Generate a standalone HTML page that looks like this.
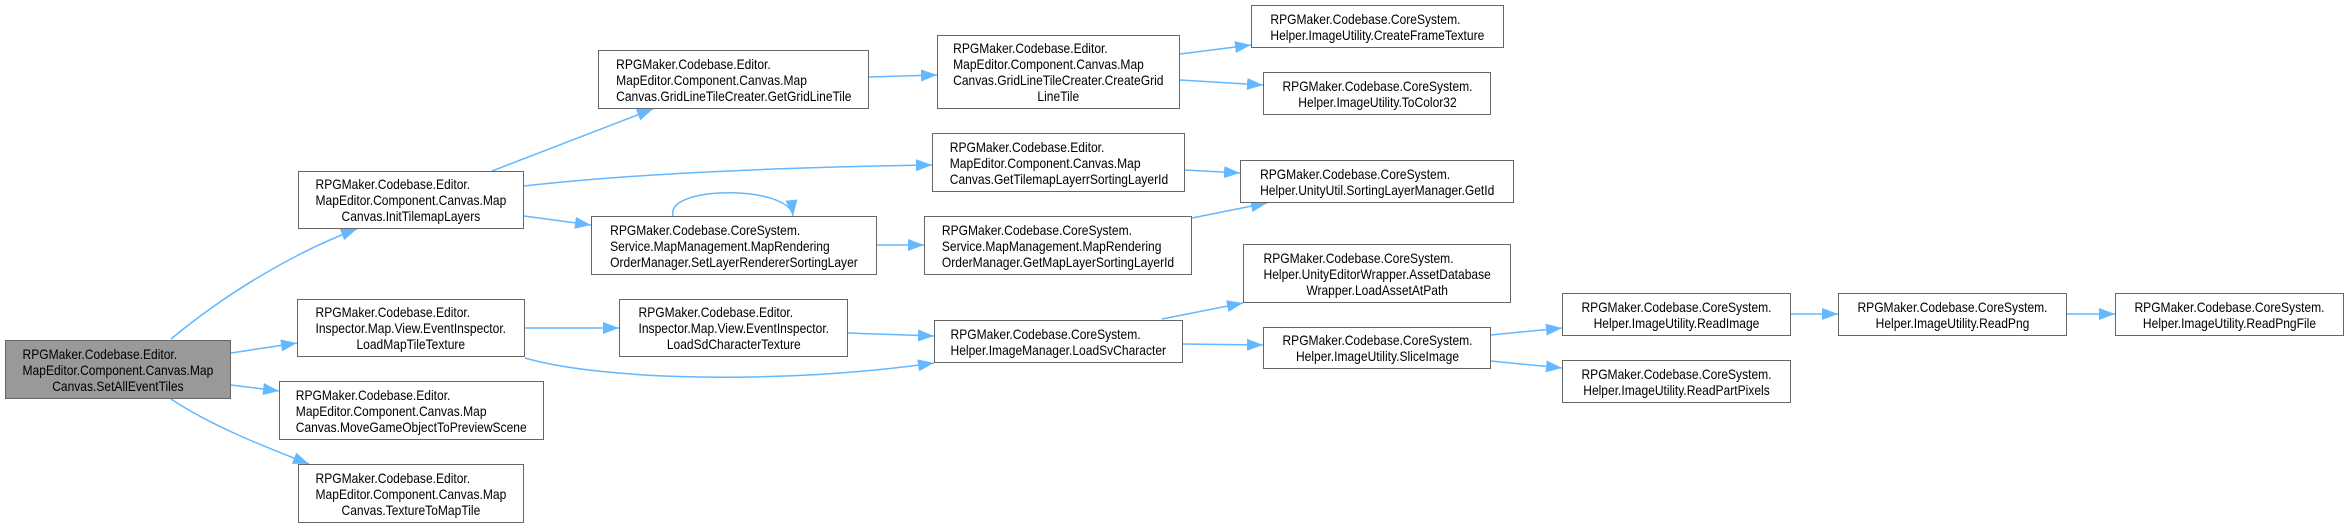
<!DOCTYPE html>
<html><head><meta charset="utf-8"><style>
body{margin:0;width:2345px;height:528px;background:#fff;position:relative;overflow:hidden;font-family:"Liberation Sans",sans-serif;}
.n{position:absolute;box-sizing:border-box;border:1.5px solid #666;background:#fff;display:flex;align-items:center;justify-content:center;font-size:14px;line-height:16px;color:#000;white-space:nowrap;}
.n.r{background:#999;}
.w{display:inline-block;text-align:left;transform:scaleX(0.86);transform-origin:center;}
.w div:last-child{text-align:center;}
svg{position:absolute;left:0;top:0;}
</style></head><body>
<svg width="2345" height="528">
<defs><marker id="a" markerWidth="16" markerHeight="12" refX="16" refY="6" orient="auto" markerUnits="userSpaceOnUse"><path d="M0,0 L16,6 L0,12 z" fill="#63b8ff"/></marker></defs>
<g stroke="#63b8ff" stroke-width="1.5" fill="none" marker-end="url(#a)">
<path d="M171,339 C230,290 300,250 357,229"/>
<path d="M231,353 L297,343"/>
<path d="M231,385 L279,391"/>
<path d="M171,399 C210,425 260,445 309,464"/>
<path d="M492,171 L653,109"/>
<path d="M524,186 C650,172 800,167 932,165"/>
<path d="M524,216 L591,225"/>
<path d="M673,216 C665,185 790,185 793,216"/>
<path d="M869,77 L937,75"/>
<path d="M1180,54 L1251,45"/>
<path d="M1180,80 L1263,85"/>
<path d="M1185,170 L1240,173"/>
<path d="M877,245 L924,245"/>
<path d="M1192,218 L1267,203"/>
<path d="M525,328 L619,328"/>
<path d="M525,358 C600,380 780,385 934,363"/>
<path d="M848,333 L934,336"/>
<path d="M1162,319 L1243,303"/>
<path d="M1183,344 L1263,345"/>
<path d="M1491,335 L1562,328"/>
<path d="M1491,361 L1562,368"/>
<path d="M1791,314 L1838,314"/>
<path d="M2067,314 L2115,314"/>
</g></svg>

<div class="n r" style="left:5px;top:340px;width:226px;height:59px"><div class="w"><div>RPGMaker.Codebase.Editor.</div><div>MapEditor.Component.Canvas.Map</div><div>Canvas.SetAllEventTiles</div></div></div>
<div class="n" style="left:298px;top:171px;width:226px;height:58px"><div class="w"><div>RPGMaker.Codebase.Editor.</div><div>MapEditor.Component.Canvas.Map</div><div>Canvas.InitTilemapLayers</div></div></div>
<div class="n" style="left:297px;top:299px;width:228px;height:58px"><div class="w"><div>RPGMaker.Codebase.Editor.</div><div>Inspector.Map.View.EventInspector.</div><div>LoadMapTileTexture</div></div></div>
<div class="n" style="left:279px;top:381px;width:265px;height:59px"><div class="w"><div>RPGMaker.Codebase.Editor.</div><div>MapEditor.Component.Canvas.Map</div><div>Canvas.MoveGameObjectToPreviewScene</div></div></div>
<div class="n" style="left:298px;top:464px;width:226px;height:59px"><div class="w"><div>RPGMaker.Codebase.Editor.</div><div>MapEditor.Component.Canvas.Map</div><div>Canvas.TextureToMapTile</div></div></div>
<div class="n" style="left:598px;top:50px;width:271px;height:59px"><div class="w"><div>RPGMaker.Codebase.Editor.</div><div>MapEditor.Component.Canvas.Map</div><div>Canvas.GridLineTileCreater.GetGridLineTile</div></div></div>
<div class="n" style="left:591px;top:216px;width:286px;height:59px"><div class="w"><div>RPGMaker.Codebase.CoreSystem.</div><div>Service.MapManagement.MapRendering</div><div>OrderManager.SetLayerRendererSortingLayer</div></div></div>
<div class="n" style="left:619px;top:299px;width:229px;height:58px"><div class="w"><div>RPGMaker.Codebase.Editor.</div><div>Inspector.Map.View.EventInspector.</div><div>LoadSdCharacterTexture</div></div></div>
<div class="n" style="left:937px;top:35px;width:243px;height:74px"><div class="w"><div>RPGMaker.Codebase.Editor.</div><div>MapEditor.Component.Canvas.Map</div><div>Canvas.GridLineTileCreater.CreateGrid</div><div>LineTile</div></div></div>
<div class="n" style="left:1251px;top:5px;width:253px;height:43px"><div class="w"><div>RPGMaker.Codebase.CoreSystem.</div><div>Helper.ImageUtility.CreateFrameTexture</div></div></div>
<div class="n" style="left:1263px;top:72px;width:228px;height:43px"><div class="w"><div>RPGMaker.Codebase.CoreSystem.</div><div>Helper.ImageUtility.ToColor32</div></div></div>
<div class="n" style="left:932px;top:133px;width:253px;height:59px"><div class="w"><div>RPGMaker.Codebase.Editor.</div><div>MapEditor.Component.Canvas.Map</div><div>Canvas.GetTilemapLayerrSortingLayerId</div></div></div>
<div class="n" style="left:1240px;top:160px;width:274px;height:43px"><div class="w"><div>RPGMaker.Codebase.CoreSystem.</div><div>Helper.UnityUtil.SortingLayerManager.GetId</div></div></div>
<div class="n" style="left:924px;top:216px;width:268px;height:59px"><div class="w"><div>RPGMaker.Codebase.CoreSystem.</div><div>Service.MapManagement.MapRendering</div><div>OrderManager.GetMapLayerSortingLayerId</div></div></div>
<div class="n" style="left:1243px;top:244px;width:268px;height:59px"><div class="w"><div>RPGMaker.Codebase.CoreSystem.</div><div>Helper.UnityEditorWrapper.AssetDatabase</div><div>Wrapper.LoadAssetAtPath</div></div></div>
<div class="n" style="left:934px;top:320px;width:249px;height:43px"><div class="w"><div>RPGMaker.Codebase.CoreSystem.</div><div>Helper.ImageManager.LoadSvCharacter</div></div></div>
<div class="n" style="left:1263px;top:327px;width:228px;height:42px"><div class="w"><div>RPGMaker.Codebase.CoreSystem.</div><div>Helper.ImageUtility.SliceImage</div></div></div>
<div class="n" style="left:1562px;top:293px;width:229px;height:43px"><div class="w"><div>RPGMaker.Codebase.CoreSystem.</div><div>Helper.ImageUtility.ReadImage</div></div></div>
<div class="n" style="left:1562px;top:360px;width:229px;height:43px"><div class="w"><div>RPGMaker.Codebase.CoreSystem.</div><div>Helper.ImageUtility.ReadPartPixels</div></div></div>
<div class="n" style="left:1838px;top:293px;width:229px;height:43px"><div class="w"><div>RPGMaker.Codebase.CoreSystem.</div><div>Helper.ImageUtility.ReadPng</div></div></div>
<div class="n" style="left:2115px;top:293px;width:229px;height:43px"><div class="w"><div>RPGMaker.Codebase.CoreSystem.</div><div>Helper.ImageUtility.ReadPngFile</div></div></div>
</body></html>
